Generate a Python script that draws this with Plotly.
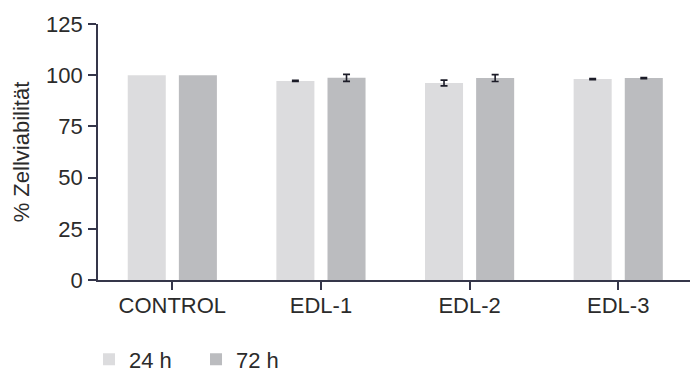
import numpy as np
import plotly.graph_objects as go

categories = ["CONTROL", "EDL-1", "EDL-2", "EDL-3"]
series_names = ["24 h", "72 h"]
values_24h = [100.0, 97.2, 96.2, 98.1]
errors_24h = [np.nan, 0.3, 1.4, 0.3]
values_72h = [100.0, 98.7, 98.6, 98.6]
errors_72h = [np.nan, 1.7, 1.7, 0.3]
y_ticks = [0, 25, 50, 75, 100, 125]

colors = ["#dcdcde", "#bbbcbf"]
axis_color = "#35364a"
text_color = "#2b2b2b"
font_family = "Liberation Sans, Arial, sans-serif"
fs = 22

fig = go.Figure()
for name, vals, errs, col in [
    (series_names[0], values_24h, errors_24h, colors[0]),
    (series_names[1], values_72h, errors_72h, colors[1]),
]:
    fig.add_trace(go.Bar(
        x=categories, y=vals, name=name,
        marker=dict(color=col, line=dict(width=0)),
        error_y=dict(type="data", array=np.array(errs, dtype=float), visible=True,
                     color="#1c1c28", thickness=1.6, width=3.5),
    ))

fig.update_layout(
    width=690, height=364,
    margin=dict(l=90, r=1, t=16, b=92, autoexpand=False),
    paper_bgcolor="white", plot_bgcolor="white",
    barmode="group", bargap=0.312, bargroupgap=0.256,
    font=dict(family=font_family, size=fs, color=text_color),
    showlegend=True,
    legend=dict(orientation="h", x=-0.015, xanchor="left", y=-0.228, yanchor="top",
                font=dict(size=fs, color=text_color), itemwidth=30,
                entrywidth=62, entrywidthmode="pixels",
                bgcolor="rgba(0,0,0,0)", traceorder="normal"),
    xaxis=dict(
        range=[-0.5, 3.53], showgrid=False, zeroline=False,
        showline=True, linecolor=axis_color, linewidth=1.6,
        ticks="outside", ticklen=8, tickwidth=1.6, tickcolor=axis_color,
        tickfont=dict(size=fs, color=text_color), ticklabelstandoff=-3,
        automargin=False,
    ),
    yaxis=dict(
        range=[0, 125], tickvals=y_ticks, showgrid=False, zeroline=False,
        showline=True, linecolor=axis_color, linewidth=1.6,
        ticks="outside", ticklen=8, tickwidth=1.6, tickcolor=axis_color,
        tickfont=dict(size=fs, color=text_color), ticklabelstandoff=1,
        title=dict(text="% Zellviabilität", font=dict(size=fs, color=text_color), standoff=10),
        automargin=False,
    ),
)

fig.write_html("out.html")
